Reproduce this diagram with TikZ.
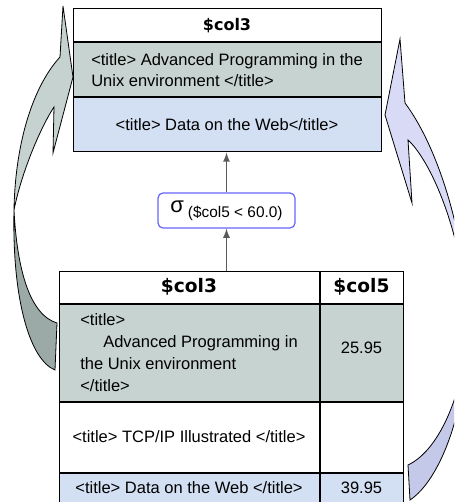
\documentclass[tikz,border=0pt]{standalone}
\usepackage{fontspec}
\setmainfont{Liberation Sans}
\newfontfamily\headfont{DejaVu Sans}
\usetikzlibrary{arrows,positioning}
\definecolor{rowgray}{RGB}{199,211,208}
\definecolor{rowblue}{RGB}{211,223,243}
\definecolor{arrgray}{RGB}{198,210,207}
\definecolor{arrgraydark}{RGB}{155,170,167}
\definecolor{arrlilac}{RGB}{216,218,246}
\definecolor{arrlilacdark}{RGB}{196,201,234}
\definecolor{selblue}{RGB}{100,100,255}
\definecolor{linkgray}{RGB}{90,90,90}

\tikzset{
  cell/.style={draw,line width=0.5pt,inner sep=0pt,font=\fontsize{8.25}{10.5}\selectfont},
  hcell/.style={cell,fill=white,font=\headfont\bfseries\fontsize{9.3}{11}\selectfont},
  bigarrow/.style={draw=black,line width=0.4pt,line join=miter},
  link/.style={draw=linkgray,line width=0.6pt,-latex}
}

\begin{document}
\begin{tikzpicture}[x=0.5pt,y=-0.5pt]
\useasboundingbox (0,0) rectangle (454,502);
\clip (0,0) rectangle (454,502);

% Curved arrows behind the tables
\fill[arrgraydark,bigarrow] (14,210) .. controls (12,300) and (30,360) .. (55,370)
  -- (57,323) .. controls (30,315) and (17,270) .. (14,210) -- cycle;
\fill[arrgray,bigarrow] (14,210) .. controls (15,150) and (30,90) .. (60,57)
  -- (63,6) -- (73,77) -- (53,153) -- (54,107)
  .. controls (42,125) and (22,170) .. (14,210) -- cycle;
\fill[arrlilacdark,bigarrow] (468,320) .. controls (468,410) and (440,480) .. (410,500)
  -- (408,465) .. controls (440,450) and (466,390) .. (468,320) -- cycle;
\fill[arrlilac,bigarrow] (468,320) .. controls (466,240) and (440,150) .. (405,103)
  -- (400,39) -- (385,115) -- (412,203) -- (408,140)
  .. controls (430,160) and (462,230) .. (468,320) -- cycle;

% Result table
\node[hcell,minimum width=154pt,minimum height=16.5pt,font=\headfont\bfseries\fontsize{8}{10}\selectfont] (rhead) at (227,25.5) {\$col3};
\node[cell,fill=rowgray,minimum width=154pt,minimum height=27pt,align=left,below=0pt of rhead] (rrow1) {<title> Advanced Programming in the\\Unix environment </title>};
\node[cell,fill=rowblue,minimum width=154pt,minimum height=27pt,below=0pt of rrow1] (rrow2) {<title> Data on the Web</title>};

% Selection
\node[draw=selblue,line width=0.6pt,rounded corners=2.5pt,fill=white,minimum width=68.5pt,minimum height=17.5pt,inner sep=0pt] (select) at (226.5,210.5)
  {{\fontsize{11}{12}\selectfont σ}\hspace{2pt}{\fontsize{7.7}{9}\selectfont\raisebox{-2.5pt}{(\$col5 < 60.0)}}};

% Input table
\node[hcell,minimum width=130pt,minimum height=16pt] (bhead3) at (189,287) {\$col3};
\node[hcell,minimum width=41.5pt,minimum height=16pt,right=0pt of bhead3] (bhead5) {\$col5};
\node[cell,fill=rowgray,minimum width=130pt,minimum height=48.5pt,align=left,font=\fontsize{8.25}{11}\selectfont,below=0pt of bhead3] (brow1)
  {<title>\\\hspace*{11.5pt}Advanced Programming in\\the Unix environment\\</title>};
\node[cell,fill=rowgray,minimum width=41.5pt,minimum height=48.5pt,right=0pt of brow1] (bval1) {\raisebox{4.75pt}{25.95}};
\node[cell,fill=white,minimum width=130pt,minimum height=35pt,below=0pt of brow1] (brow2) {<title> TCP/IP Illustrated </title>};
\node[cell,fill=white,minimum width=41.5pt,minimum height=35pt,right=0pt of brow2] (bval2) {};
\node[cell,fill=rowblue,minimum width=130pt,minimum height=14.5pt,below=0pt of brow2] (brow3) {<title> Data on the Web </title>};
\node[cell,fill=rowblue,minimum width=41.5pt,minimum height=14.5pt,right=0pt of brow3] (bval3) {39.95};

% Links
\draw[link] (select.north) -- (select.north |- rrow2.south);
\draw[link] (select.south |- bhead3.north) -- (select.south);
\end{tikzpicture}
\end{document}
